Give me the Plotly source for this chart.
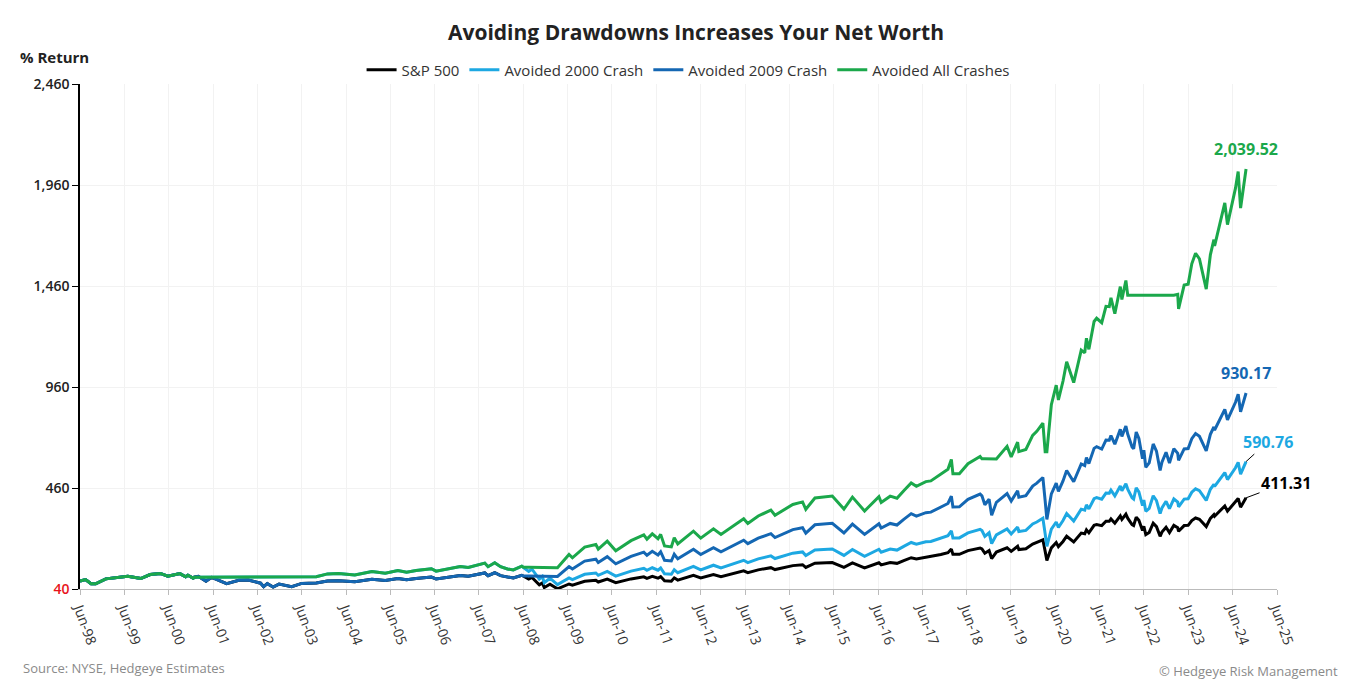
import plotly.graph_objects as go

dates = [
    "1998-06-01", "1998-07-17", "1998-08-31", "1998-10-08", "1998-12-31",
    "1999-03-31", "1999-06-30", "1999-10-15", "1999-12-31", "2000-03-24",
    "2000-05-24", "2000-09-01", "2000-10-18", "2000-11-06", "2000-12-20",
    "2000-12-29", "2001-01-30", "2001-04-04", "2001-05-21", "2001-09-21",
    "2001-12-31", "2002-03-19", "2002-06-28", "2002-07-23", "2002-08-22",
    "2002-10-09", "2002-11-27", "2003-03-11", "2003-06-02", "2003-09-30",
    "2003-12-31", "2004-03-31", "2004-08-12", "2004-12-31", "2005-04-20",
    "2005-08-02", "2005-10-13", "2005-12-30", "2006-05-05", "2006-06-13",
    "2006-12-29", "2007-03-05", "2007-07-19", "2007-08-15", "2007-10-09",
    "2007-11-26", "2008-01-22", "2008-03-10", "2008-05-19", "2008-06-02",
    "2008-07-15", "2008-08-11", "2008-10-10", "2008-11-04", "2008-11-20",
    "2009-01-06", "2009-03-09", "2009-06-12", "2009-07-10", "2009-10-19",
    "2010-01-19", "2010-02-08", "2010-04-23", "2010-07-02", "2010-11-05",
    "2011-02-18", "2011-03-16", "2011-04-29", "2011-06-15", "2011-07-07",
    "2011-08-08", "2011-10-03", "2011-10-27", "2011-11-25", "2012-04-02",
    "2012-06-01", "2012-09-14", "2012-11-15", "2013-05-21", "2013-06-24",
    "2013-09-18", "2013-12-31", "2014-02-03", "2014-06-30", "2014-09-18",
    "2014-10-15", "2014-12-29", "2015-05-21", "2015-08-25", "2015-11-03",
    "2016-02-11", "2016-06-08", "2016-06-27", "2016-09-09", "2016-11-04",
    "2016-12-30", "2017-03-01", "2017-04-13", "2017-06-30", "2017-08-10",
    "2017-10-31", "2017-12-29", "2018-01-26", "2018-02-08", "2018-04-02",
    "2018-06-12", "2018-09-20", "2018-10-05", "2018-10-29", "2018-12-03",
    "2018-12-24", "2019-02-01", "2019-04-30", "2019-06-03", "2019-07-26",
    "2019-08-05", "2019-10-02", "2019-11-27", "2019-12-31", "2020-02-19",
    "2020-03-09", "2020-03-23", "2020-04-29", "2020-06-08", "2020-06-26",
    "2020-08-03", "2020-09-02", "2020-10-30", "2020-12-31", "2021-01-29",
    "2021-02-12", "2021-03-04", "2021-04-16", "2021-05-07", "2021-06-18",
    "2021-07-23", "2021-08-19", "2021-09-02", "2021-10-04", "2021-11-18",
    "2021-12-01", "2022-01-03", "2022-01-18", "2022-02-23", "2022-03-08",
    "2022-03-29", "2022-04-20", "2022-05-20", "2022-05-31", "2022-06-16",
    "2022-07-14", "2022-08-16", "2022-09-12", "2022-10-12", "2022-10-27",
    "2022-11-30", "2022-12-28", "2023-02-02", "2023-03-06", "2023-03-13",
    "2023-04-28", "2023-05-31", "2023-06-30", "2023-07-31", "2023-09-01",
    "2023-10-27", "2023-11-30", "2023-12-29", "2024-01-04", "2024-02-29",
    "2024-03-28", "2024-04-19", "2024-05-31", "2024-06-24", "2024-07-16",
    "2024-08-05", "2024-09-19",
]

sp500 = [
    0.0, 6.5, -14.2, -14.0, 10.2, 15.3, 23.1, 11.8, 31.7, 37.0,
    23.1, 36.3, 20.4, 28.4, 13.4, 18.4, 23.1, -1.1, 17.7, -13.4,
    3.0, 4.9, -11.2, -28.5, -13.7, -30.3, -15.9, -28.3, -12.4, -10.7,
    -0.3, 1.0, -4.6, 8.7, 2.1, 11.7, 5.6, 11.9, 18.9, 9.7,
    27.2, 23.2, 39.3, 26.1, 40.4, 26.2, 17.6, 14.2, 28.0, 24.0,
    9.0, 17.0, -19.4, -9.8, -32.6, -16.1, -39.3, -15.2, -21.2, -1.6,
    3.1, -5.3, 9.1, -8.3, 10.0, 20.4, 12.7, 22.3, 13.5, 21.4,
    0.4, -1.4, 15.2, 3.9, 27.3, 14.6, 31.5, 21.3, 49.7, 41.1,
    54.8, 65.7, 56.2, 75.8, 80.4, 67.0, 87.5, 91.1, 67.5, 89.2,
    64.0, 90.0, 79.5, 90.9, 87.0, 100.8, 114.9, 108.9, 117.3, 118.7,
    130.9, 139.8, 157.7, 131.5, 131.6, 150.0, 162.9, 158.7, 136.9, 150.2,
    110.9, 142.8, 164.2, 146.1, 171.4, 155.2, 159.0, 182.8, 189.8, 203.7,
    146.3, 100.6, 163.6, 189.9, 169.9, 195.4, 221.1, 193.3, 236.9, 233.1,
    252.8, 237.9, 275.3, 279.6, 273.6, 295.6, 295.2, 306.9, 285.7, 322.0,
    304.8, 330.2, 310.5, 278.9, 274.1, 315.4, 299.9, 249.9, 270.6, 228.9,
    239.9, 286.1, 268.6, 220.8, 241.4, 265.9, 239.3, 274.8, 263.0, 245.7,
    273.9, 274.9, 299.1, 311.6, 305.0, 269.2, 309.7, 327.8, 320.4, 357.0,
    371.2, 345.5, 373.4, 388.6, 408.3, 365.1, 411.31,
]

avoided_2000 = [
    0.0, 6.5, -14.2, -14.0, 10.2, 15.3, 23.1, 11.8, 31.7, 37.0,
    23.1, 36.3, 20.4, 28.4, 13.4, 18.4, 18.4, 18.4, 18.4, 18.4,
    18.4, 18.4, 18.4, 18.4, 18.4, 18.4, 18.4, 18.4, 18.3, 20.6,
    34.7, 36.5, 28.9, 46.9, 37.9, 50.9, 42.7, 51.2, 60.6, 48.2,
    71.8, 66.4, 88.2, 70.4, 89.7, 70.5, 58.9, 54.3, 72.9, 67.5,
    47.3, 58.1, 8.9, 21.9, -8.9, 13.4, -18.0, 14.6, 6.5, 32.9,
    39.3, 27.9, 47.4, 23.9, 48.6, 62.7, 52.3, 65.2, 53.3, 64.0,
    35.6, 33.2, 55.6, 40.4, 72.0, 54.8, 77.7, 63.9, 102.2, 90.6,
    109.1, 123.9, 111.0, 137.5, 143.7, 125.6, 153.3, 158.2, 126.3, 155.6,
    121.6, 156.7, 142.5, 157.9, 152.6, 171.3, 190.3, 182.2, 193.6, 195.5,
    211.9, 224.0, 248.2, 212.8, 212.9, 237.8, 255.2, 249.5, 220.1, 238.0,
    184.9, 228.0, 256.9, 232.5, 266.7, 244.8, 249.9, 282.1, 291.5, 310.3,
    232.8, 171.0, 256.1, 291.7, 264.6, 299.1, 333.8, 296.3, 355.2, 350.0,
    376.6, 356.5, 407.0, 412.8, 404.7, 434.5, 433.9, 449.7, 421.1, 470.1,
    446.9, 481.2, 454.6, 411.9, 405.4, 461.2, 440.3, 372.7, 400.7, 344.3,
    359.2, 421.6, 398.0, 333.4, 361.2, 394.3, 358.4, 406.4, 390.4, 367.0,
    405.1, 406.5, 439.2, 456.1, 447.2, 398.8, 453.5, 478.0, 468.0, 517.4,
    536.6, 501.9, 539.6, 560.1, 586.7, 528.4, 590.76,
]

avoided_2009 = [
    0.0, 6.5, -14.2, -14.0, 10.2, 15.3, 23.1, 11.8, 31.7, 37.0,
    23.1, 36.3, 20.4, 28.4, 13.4, 18.4, 23.1, -1.1, 17.7, -13.4,
    3.0, 4.9, -11.2, -28.5, -13.7, -30.3, -15.9, -28.3, -12.4, -10.7,
    -0.3, 1.0, -4.6, 8.7, 2.1, 11.7, 5.6, 11.9, 18.9, 9.7,
    27.2, 23.2, 39.3, 26.1, 40.4, 26.2, 17.6, 14.2, 28.0, 24.0,
    24.0, 24.0, 24.0, 24.0, 24.0, 24.0, 22.3, 70.9, 58.8, 98.3,
    107.7, 90.8, 119.8, 84.8, 121.6, 142.6, 127.1, 146.4, 128.7, 144.6,
    102.3, 98.7, 132.1, 109.3, 156.5, 130.9, 165.0, 144.4, 201.6, 184.3,
    211.9, 233.9, 214.7, 254.2, 263.5, 236.5, 277.8, 285.0, 237.5, 281.2,
    230.4, 282.8, 261.7, 284.6, 276.8, 304.6, 333.0, 320.9, 337.8, 340.6,
    365.2, 383.2, 419.2, 366.4, 366.6, 403.7, 429.7, 421.2, 377.3, 404.1,
    324.9, 389.2, 432.3, 395.8, 446.8, 414.2, 421.8, 469.8, 483.9, 511.9,
    396.2, 304.2, 431.1, 484.1, 443.8, 495.2, 547.0, 490.9, 578.8, 571.1,
    610.8, 580.8, 656.2, 664.8, 652.7, 697.0, 696.2, 719.8, 677.1, 750.2,
    715.6, 766.8, 727.1, 663.4, 653.7, 737.0, 705.7, 605.0, 646.7, 562.7,
    584.8, 677.9, 642.7, 546.4, 587.9, 637.2, 583.6, 655.2, 631.4, 596.5,
    653.3, 655.4, 704.1, 729.3, 716.0, 643.9, 725.5, 761.9, 747.0, 820.8,
    849.4, 797.6, 853.8, 884.4, 924.1, 837.1, 930.17,
]

avoided_all = [
    0.0, 6.5, -14.2, -14.0, 10.2, 15.3, 23.1, 11.8, 31.7, 37.0,
    23.1, 36.3, 20.4, 28.4, 13.4, 18.4, 18.4, 18.4, 18.4, 18.4,
    18.4, 18.4, 18.4, 18.4, 18.4, 18.4, 18.4, 18.4, 18.3, 20.6,
    34.7, 36.5, 28.9, 46.9, 37.9, 50.9, 42.7, 51.2, 60.6, 48.2,
    71.8, 66.4, 88.2, 70.4, 89.7, 70.5, 58.9, 54.3, 72.9, 67.5,
    67.5, 67.5, 67.5, 67.5, 67.5, 67.5, 65.2, 130.8, 114.5, 167.8,
    180.6, 157.8, 197.0, 149.6, 199.4, 227.7, 206.8, 232.9, 209.0, 230.5,
    173.3, 168.4, 213.6, 182.8, 246.5, 211.9, 257.9, 230.2, 307.5, 284.1,
    321.4, 351.0, 325.2, 378.5, 391.1, 354.6, 410.4, 420.2, 355.9, 415.0,
    346.4, 417.2, 388.6, 419.6, 409.0, 446.6, 485.0, 468.6, 491.5, 495.3,
    528.5, 552.7, 601.5, 530.1, 530.4, 580.5, 615.6, 604.2, 604.2, 604.2,
    604.2, 604.1, 666.2, 613.7, 687.1, 640.1, 651.1, 720.1, 740.4, 780.7,
    640.0, 640.0, 872.4, 969.4, 895.7, 989.7, 1084.5, 982.0, 1142.8, 1128.8,
    1201.5, 1146.5, 1284.5, 1300.3, 1278.2, 1359.4, 1357.9, 1401.1, 1322.9, 1456.8,
    1393.3, 1487.0, 1414.3, 1414.3, 1414.3, 1414.3, 1414.3, 1414.3, 1414.3, 1414.3,
    1414.3, 1414.3, 1414.3, 1414.3, 1414.3, 1414.3, 1414.3, 1414.3, 1418.8, 1346.4,
    1464.4, 1468.6, 1569.8, 1622.1, 1594.5, 1444.7, 1614.2, 1689.9, 1659.0, 1812.1,
    1871.5, 1764.0, 1880.7, 1944.3, 2026.7, 1846.0, 2039.52,
]

series_names = ["S&P 500", "Avoided 2000 Crash", "Avoided 2009 Crash", "Avoided All Crashes"]
series_colors = ["#000000", "#1DA8E2", "#1467B3", "#1BA84B"]
series_values = [sp500, avoided_2000, avoided_2009, avoided_all]

y_tickvals = [-40, 460, 960, 1460, 1960, 2460]
y_ticktext = ['<span style="color:#E8141B">40</span>', "460", "960", "1,460", "1,960", "2,460"]

FONT = "Open Sans"

fig = go.Figure()
for name, color, vals in zip(series_names, series_colors, series_values):
    fig.add_trace(go.Scatter(
        x=dates, y=vals, mode="lines", name=name,
        line=dict(color=color, width=3),
    ))

end_labels = [
    (avoided_all[-1], "2,039.52", series_colors[3], 0, -20, False),
    (avoided_2009[-1], "930.17", series_colors[2], 0, -20, False),
    (avoided_2000[-1], "590.76", series_colors[1], 22, -20, True),
    (sp500[-1], "411.31", series_colors[0], 40, -15, True),
]
for val, txt, col, ax, ay, arrow in end_labels:
    fig.add_annotation(
        x=dates[-1], y=val, text=f"<b>{txt}</b>", showarrow=arrow,
        arrowhead=0, arrowwidth=1, arrowcolor="#000000",
        ax=ax, ay=ay, xshift=0 if arrow else ax, yshift=0 if arrow else -ay,
        font=dict(family=FONT, size=16, color=col),
    )

fig.add_annotation(
    xref="paper", yref="paper", x=-0.0518, y=1.0535, xanchor="left", yanchor="middle",
    text="<b>% Return</b>", showarrow=False,
    font=dict(family=FONT, size=15, color="#222222"),
)
fig.add_annotation(
    xref="paper", yref="paper", x=-0.049, y=-0.156, xanchor="left", yanchor="middle",
    text="Source: NYSE, Hedgeye Estimates", showarrow=False,
    font=dict(family=FONT, size=13, color="#8a8a8a"),
)
fig.add_annotation(
    xref="paper", yref="paper", x=1.0526, y=-0.162, xanchor="right", yanchor="middle",
    text="© Hedgeye Risk Management", showarrow=False,
    font=dict(family=FONT, size=13, color="#8a8a8a"),
)

fig.update_layout(
    width=1345, height=680,
    margin=dict(l=72, r=76, t=76, b=99),
    paper_bgcolor="white", plot_bgcolor="white",
    font=dict(family=FONT, color="#222222"),
    title=dict(
        text="<b>Avoiding Drawdowns Increases Your Net Worth</b>",
        x=0.5146, xref="paper", xanchor="center",
        y=1 - 25 / 680, yref="container", yanchor="middle",
        font=dict(family=FONT, size=21, color="#222222"),
    ),
    legend=dict(
        orientation="h", x=0.508, xanchor="center", y=1.0277, yanchor="middle",
        font=dict(family=FONT, size=15, color="#333333"),
        itemwidth=30, tracegroupgap=0, bgcolor="rgba(0,0,0,0)",
    ),
    showlegend=True,
)
fig.update_xaxes(
    type="date", range=["1998-06-01", "2025-06-01"],
    tick0="1998-06-01", dtick="M12", tickformat="%b-%y",
    tickangle=70, ticks="outside", ticklen=5, tickcolor="#bbbbbb",
    showline=True, linecolor="#bbbbbb", linewidth=1,
    showgrid=True, gridcolor="#f2f2f2", gridwidth=1,
    tickfont=dict(family=FONT, size=14, color="#333333"),
    zeroline=False,
)
fig.update_yaxes(
    range=[-40, 2460], tickvals=y_tickvals, ticktext=y_ticktext,
    ticks="outside", ticklen=6, tickcolor="#000000",
    showline=True, linecolor="#000000", linewidth=1.5,
    showgrid=True, gridcolor="#f2f2f2", gridwidth=1,
    tickfont=dict(family=FONT, size=14, color="#222222", weight=600),
    zeroline=False,
)

fig.write_html("out.html")
